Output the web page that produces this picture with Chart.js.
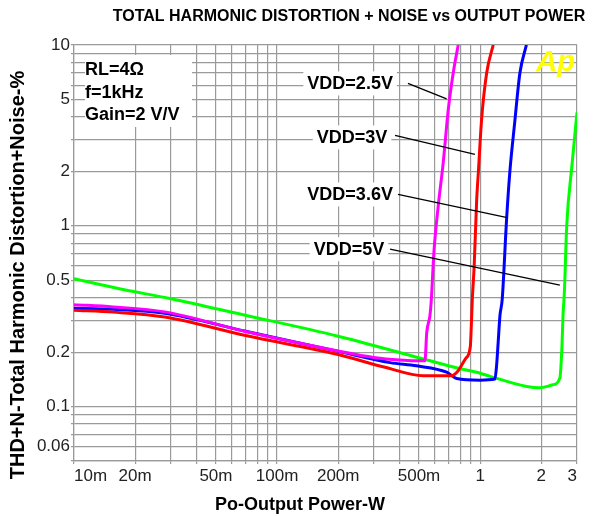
<!DOCTYPE html>
<html><head><meta charset="utf-8">
<script src="https://cdn.jsdelivr.net/npm/chart.js@4.4.0/dist/chart.umd.min.js"></script>
<style>html,body{margin:0;padding:0;background:#fff;} #wrap{width:603px;height:516px;position:relative;}</style>
</head><body><div id="wrap"><canvas id="c" width="603" height="516"></canvas></div>
<script>
const chartTitle = 'TOTAL HARMONIC DISTORTION + NOISE vs OUTPUT POWER';
const xTitle = 'Po-Output Power-W';
const yTitle = 'THD+N-Total Harmonic Distortion+Noise-%';
const conditions = ['RL=4Ω', 'f=1kHz', 'Gain=2 V/V'];
const seriesNames = ['VDD=2.5V', 'VDD=3V', 'VDD=3.6V', 'VDD=5V'];
const seriesColors = ['#ff00ff', '#ff0000', '#0000ff', '#00ff00'];

// VDD = 2.5 V
const power25 = [0.01, 0.0156, 0.028, 0.07, 0.2, 0.3, 0.4, 0.535, 0.546, 0.566, 0.575, 0.592, 0.622, 0.658, 0.697, 0.737, 0.78];
const thd25   = [0.366, 0.356, 0.334, 0.26, 0.203, 0.187, 0.181, 0.179, 0.257, 0.318, 0.39, 0.711, 1.29, 2.23, 4.4, 7.0, 10];
// VDD = 3 V
const power3 = [0.01, 0.0156, 0.028, 0.07, 0.2, 0.34, 0.525, 0.72, 0.78, 0.85, 0.895, 0.905, 0.915, 0.935, 0.962, 0.98, 1.017, 1.077, 1.16];
const thd3   = [0.341, 0.333, 0.313, 0.247, 0.194, 0.165, 0.148, 0.148, 0.158, 0.185, 0.215, 0.28, 0.39, 0.6, 1.4, 1.97, 3.88, 7.0, 10];
// VDD = 3.6 V
const power36 = [0.01, 0.0156, 0.028, 0.07, 0.2, 0.36, 0.486, 0.684, 0.766, 1.0, 1.183, 1.205, 1.227, 1.252, 1.285, 1.35, 1.40, 1.48, 1.57, 1.69];
const thd36   = [0.35, 0.345, 0.328, 0.261, 0.202, 0.175, 0.168, 0.155, 0.143, 0.14, 0.142, 0.168, 0.226, 0.318, 0.393, 1.086, 1.97, 3.72, 7.0, 10];
// VDD = 5 V
const power5 = [0.01, 0.0165, 0.03, 0.068, 0.2, 0.52, 0.8, 1.0, 1.12, 1.7, 1.97, 2.28, 2.47, 2.53, 2.56, 2.6, 2.67, 2.83, 3.0];
const thd5   = [0.51, 0.45, 0.395, 0.322, 0.245, 0.184, 0.162, 0.153, 0.147, 0.129, 0.127, 0.132, 0.144, 0.216, 0.32, 0.43, 1.0, 2.13, 4.24];

const xTickValues = [0.01, 0.02, 0.05, 0.1, 0.2, 0.5, 1, 2, 3];
const xTickLabels = ['10m', '20m', '50m', '100m', '200m', '500m', '1', '2', '3'];
const yTickValues = [10, 5, 2, 1, 0.5, 0.2, 0.1, 0.06];
const yTickLabels = ['10', '5', '2', '1', '0.5', '0.2', '0.1', '0.06'];
const xRange = [0.01, 3];
const yRange = [0.05, 10];

// annotation anchors (data units)
const labelAt    = [[0.229, 6.13], [0.234, 3.08], [0.229, 1.49], [0.226, 0.742]];
const leaderFrom = [[0.441, 6.13], [0.381, 3.16], [0.394, 1.49], [0.36, 0.742]];
const leaderTo   = [[0.684, 5.04], [0.943, 2.48], [1.36, 1.11], [2.47, 0.469]];

const FONT = '"Liberation Sans", Arial, Helvetica, sans-serif';

function decadeGrid(min, max) {
  const out = [];
  for (let e = Math.floor(Math.log10(min)); e <= Math.ceil(Math.log10(max)); e++) {
    for (let m = 1; m <= 9; m++) {
      const v = +(m * Math.pow(10, e)).toPrecision(6);
      if (v >= min * 0.9999 && v <= max * 1.0001) out.push(v);
    }
  }
  return out;
}
function labelFor(v, vals, labs) {
  for (let i = 0; i < vals.length; i++) if (Math.abs(v - vals[i]) / vals[i] < 1e-6) return labs[i];
  return '';
}
function pts(xs, ys) { return xs.map((x, i) => ({x: x, y: ys[i]})); }

const seriesData = [pts(power25, thd25), pts(power3, thd3), pts(power36, thd36), pts(power5, thd5)];

const textPlugin = {
  id: 'texts',
  afterDraw(chart) {
    const ctx = chart.ctx, xs = chart.scales.x, ys = chart.scales.y;
    ctx.save();
    ctx.fillStyle = '#000';
    // main title
    ctx.font = 'bold 16px ' + FONT;
    ctx.textAlign = 'center'; ctx.textBaseline = 'middle';
    ctx.fillText(chartTitle, 349, 17);
    // x title
    ctx.font = 'bold 18px ' + FONT;
    ctx.fillText(xTitle, 300, 505);
    // y title
    ctx.save();
    ctx.translate(18, 275); ctx.rotate(-Math.PI / 2);
    ctx.font = 'bold 20px ' + FONT;
    ctx.fillText(yTitle, 0, 0);
    ctx.restore();
    // conditions box
    ctx.fillStyle = '#fff';
    ctx.fillRect(85, 55, 107, 72);
    ctx.fillStyle = '#000';
    ctx.font = 'bold 18px ' + FONT;
    ctx.textAlign = 'left';
    const cy = [70, 93, 115];
    conditions.forEach((t, i) => ctx.fillText(t, 85, cy[i]));
    // series labels with leaders
    ctx.textAlign = 'center';
    seriesNames.forEach((name, i) => {
      const px = xs.getPixelForValue(labelAt[i][0]), py = ys.getPixelForValue(labelAt[i][1]);
      const w = ctx.measureText(name).width;
      ctx.fillStyle = '#fff';
      ctx.fillRect(px - w / 2 - 4, py - 12, w + 8, 24);
      ctx.fillStyle = '#000';
      ctx.fillText(name, px, py + 1);
      ctx.beginPath();
      ctx.strokeStyle = '#000'; ctx.lineWidth = 1.3;
      ctx.moveTo(xs.getPixelForValue(leaderFrom[i][0]), ys.getPixelForValue(leaderFrom[i][1]));
      ctx.lineTo(xs.getPixelForValue(leaderTo[i][0]), ys.getPixelForValue(leaderTo[i][1]));
      ctx.stroke();
    });
    // Ap logo
    ctx.font = 'italic bold 29px ' + FONT;
    ctx.fillStyle = '#ffff00';
    ctx.textAlign = 'right';
    ctx.fillText('Ap', chart.chartArea.right - 2, chart.chartArea.top + 18);
    ctx.restore();
  }
};

const gridStyle = {color: '#9a9a9a', lineWidth: 1.2, tickLength: 3, drawTicks: true, tickColor: '#9a9a9a'};

new Chart(document.getElementById('c'), {
  type: 'line',
  data: {
    datasets: seriesNames.map((n, i) => ({
      label: n, data: seriesData[i], borderColor: seriesColors[i], backgroundColor: seriesColors[i],
      borderWidth: 3, pointRadius: 0, cubicInterpolationMode: 'monotone', fill: false
    }))
  },
  options: {
    responsive: false, animation: false, devicePixelRatio: 1,
    layout: {padding: {top: 45, right: 26, left: 0, bottom: 0}},
    plugins: {legend: {display: false}, title: {display: false}, tooltip: {enabled: false}},
    scales: {
      x: {
        type: 'logarithmic', min: xRange[0], max: xRange[1],
        afterBuildTicks(s) { s.ticks = decadeGrid(xRange[0], xRange[1]).map(v => ({value: v})); },
        afterFit(s) { s.height = 55; },
        grid: gridStyle,
        border: {display: true, color: '#9a9a9a', width: 1.2},
        ticks: {autoSkip: false, maxRotation: 0, minRotation: 0, align: 'inner', padding: 2,
          color: '#222', font: {family: FONT, size: 17},
          callback: (v) => labelFor(v, xTickValues, xTickLabels)}
      },
      y: {
        type: 'logarithmic', min: yRange[0], max: yRange[1],
        afterBuildTicks(s) { s.ticks = decadeGrid(yRange[0], yRange[1]).map(v => ({value: v})); },
        afterFit(s) { s.width = 74; },
        grid: gridStyle,
        border: {display: true, color: '#9a9a9a', width: 1.2},
        ticks: {autoSkip: false, padding: 1, color: '#222', font: {family: FONT, size: 17},
          callback: (v) => labelFor(v, yTickValues, yTickLabels)}
      }
    }
  },
  plugins: [textPlugin]
});
</script></body></html>
